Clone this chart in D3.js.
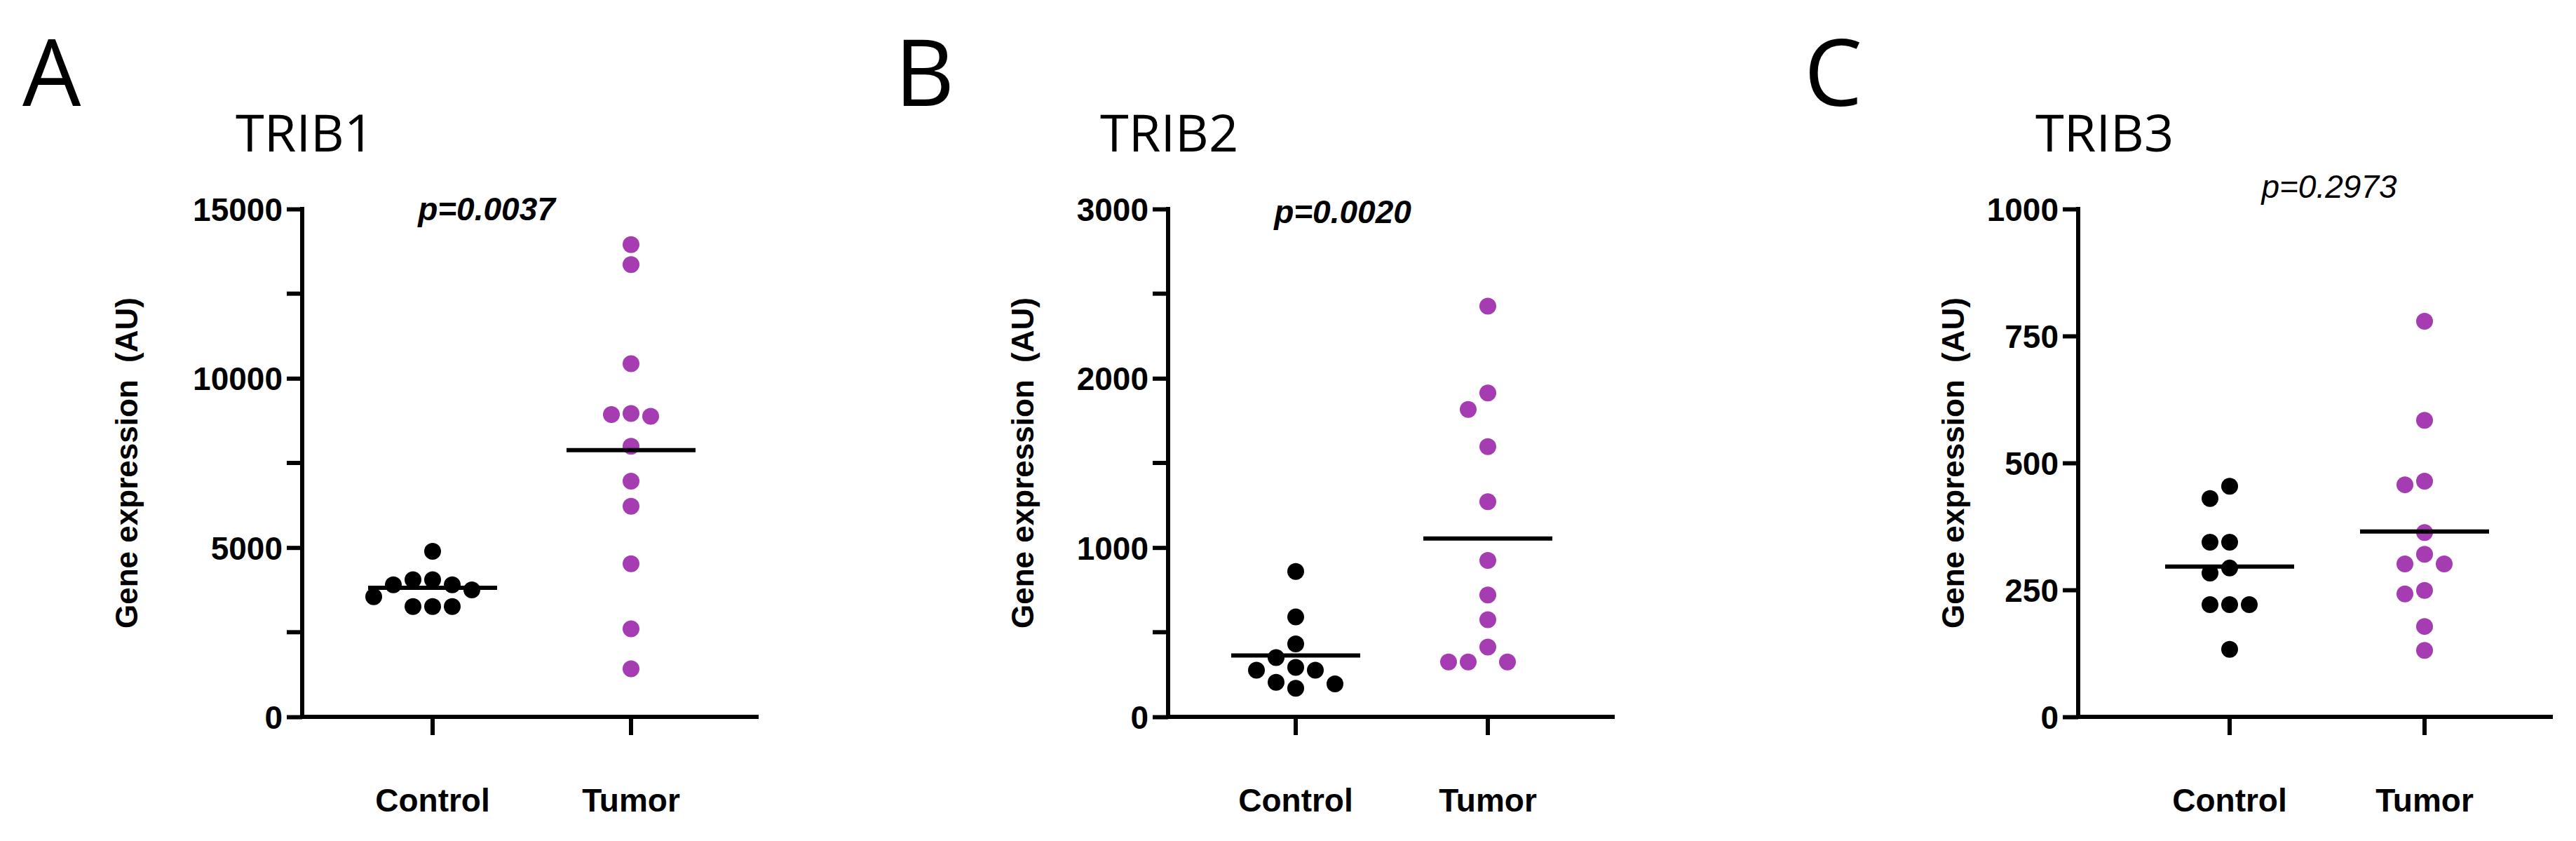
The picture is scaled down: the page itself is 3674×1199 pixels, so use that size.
<!DOCTYPE html>
<html>
<head>
<meta charset="utf-8">
<script src="https://cdn.jsdelivr.net/npm/d3@7"></script>
<style>
body { margin: 0; background: #fff; }
</style>
</head>
<body>
<script>
// DATA
var groups = ["Control", "Tumor"]

var trib1Control = [4890, 4050, 4050, 3900, 3900, 3750, 3550, 3260, 3260, 3260]
var trib1Tumor = [13950, 13360, 10430, 8960, 8930, 8880, 7990, 6960, 6220, 4520, 2600, 1420]
var trib1Means = [3810, 7880]

var trib2Control = [859, 590, 431, 350, 292, 276, 276, 204, 195, 169]
var trib2Tumor = [2426, 1913, 1816, 1596, 1271, 924, 720, 574, 412, 324, 324, 324]
var trib2Means = [363, 1054]

var trib3Control = [454, 430, 344, 344, 293, 283, 221, 221, 221, 133]
var trib3Tumor = [779, 584, 464, 457, 363, 320, 301, 301, 249, 242, 178, 131]
var trib3Means = [296, 365]

var panels = [
	{ letter: "A", title: "TRIB1", p: "p=0.0037", pBold: true, max: 15000, ticks: [0, 5000, 10000, 15000], minor: 2500,
		control: trib1Control, tumor: trib1Tumor, means: trib1Means,
		ox: 0, axisX: 431, axisEnd: 1082, c1: 617, c2: 900, labelDx: 250, letterX: 32, titleX: 336, pX: 694, pY: 314 },
	{ letter: "B", title: "TRIB2", p: "p=0.0020", pBold: true, max: 3000, ticks: [0, 1000, 2000, 3000], minor: 500,
		control: trib2Control, tumor: trib2Tumor, means: trib2Means,
		ox: 1225, axisX: 441, axisEnd: 1078, c1: 623, c2: 897, labelDx: 207, letterX: 51, titleX: 344, pX: 690, pY: 318 },
	{ letter: "C", title: "TRIB3", p: "p=0.2973", pBold: false, max: 1000, ticks: [0, 250, 500, 750, 1000], minor: null,
		control: trib3Control, tumor: trib3Tumor, means: trib3Means,
		ox: 2450, axisX: 514, axisEnd: 1191, c1: 730, c2: 1008, labelDx: 178, letterX: 123, titleX: 453, pX: 872, pY: 282 }
]

var purple = "#a53cb2"
var r = 12
var yTop = 298, yBottom = 1022

var svg = d3.select("body").append("svg")
	.attr("width", 3674)
	.attr("height", 1199)

// simple beeswarm: stack colliding points sideways
function swarm(values, y, cx) {
	var placed = []
	var sorted = values.slice().sort(function(a, b) { return b - a })
	sorted.forEach(function(v) {
		var py = y(v)
		var steps = [0, -1, 1, -2, 2, -3, 3]
		for (var i = 0; i < steps.length; i++) {
			var px = cx + steps[i] * (2 * r + 4)
			var ok = placed.every(function(q) {
				return Math.hypot(q.x - px, q.y - py) > 2 * r + 2
			})
			if (ok) { placed.push({ x: px, y: py }); break }
		}
	})
	return placed
}

panels.forEach(function(p) {
	var g = svg.append("g").attr("transform", "translate(" + p.ox + ",0)")

	var y = d3.scaleLinear().domain([0, p.max]).range([yBottom, yTop])
	var x = d3.scaleOrdinal().domain(groups).range([p.c1, p.c2])

	g.append("text").attr("x", p.letterX).attr("y", 151)
		.attr("font-family", "Open Sans").attr("font-size", 132).text(p.letter)
	g.append("text").attr("x", p.titleX).attr("y", 216)
		.attr("font-family", "Open Sans").attr("font-size", 74).text(p.title)

	g.append("text").attr("x", p.pX).attr("y", p.pY)
		.attr("text-anchor", "middle")
		.attr("font-family", "Liberation Sans").attr("font-style", "italic")
		.attr("font-weight", p.pBold ? "bold" : "normal")
		.attr("font-size", 46).text(p.p)

	// y axis
	var yAxis = d3.axisLeft(y).tickValues(p.ticks).tickSize(22).tickPadding(6).tickFormat(d3.format("d"))
	var ya = g.append("g").attr("transform", "translate(" + p.axisX + ",0)").call(yAxis)
	ya.select(".domain").remove()
	ya.append("line").attr("x1", 0).attr("x2", 0).attr("y1", yTop - 3).attr("y2", yBottom + 3)
		.attr("stroke", "#000").attr("stroke-width", 6)
	ya.selectAll(".tick line").attr("stroke-width", 6)
	ya.selectAll(".tick text").attr("font-family", "Liberation Sans").attr("font-weight", "bold")
		.attr("font-size", 46).attr("fill", "#000").attr("dy", "0.36em")
	if (p.minor) {
		var minorVals = d3.range(p.minor, p.max, p.minor * 2)
		ya.selectAll(".minor").data(minorVals).enter().append("line")
			.attr("x1", -22).attr("x2", 0).attr("y1", y).attr("y2", y)
			.attr("stroke", "#000").attr("stroke-width", 6)
	}

	// x axis
	g.append("line").attr("x1", p.axisX - 3).attr("x2", p.axisEnd).attr("y1", yBottom).attr("y2", yBottom)
		.attr("stroke", "#000").attr("stroke-width", 6)
	groups.forEach(function(c) {
		g.append("line").attr("x1", x(c)).attr("x2", x(c)).attr("y1", yBottom).attr("y2", yBottom + 26)
			.attr("stroke", "#000").attr("stroke-width", 6)
		g.append("text").attr("x", x(c)).attr("y", 1157).attr("text-anchor", "middle")
			.attr("font-family", "Liberation Sans").attr("font-weight", "bold").attr("font-size", 46).text(c)
	})

	g.append("text")
		.attr("transform", "translate(" + (p.axisX - p.labelDx) + "," + ((yTop + yBottom) / 2) + ") rotate(-90)")
		.attr("text-anchor", "middle").attr("dy", "0.35em")
		.attr("font-family", "Liberation Sans").attr("font-weight", "bold").attr("font-size", 44)
		.attr("xml:space", "preserve")
		.text("Gene expression  (AU)")

	// dots
	g.selectAll(".c").data(swarm(p.control, y, x("Control"))).enter().append("circle")
		.attr("cx", function(d) { return d.x }).attr("cy", function(d) { return d.y })
		.attr("r", r).attr("fill", "#000")
	g.selectAll(".t").data(swarm(p.tumor, y, x("Tumor"))).enter().append("circle")
		.attr("cx", function(d) { return d.x }).attr("cy", function(d) { return d.y })
		.attr("r", r).attr("fill", purple)

	// mean lines
	groups.forEach(function(c, i) {
		g.append("line").attr("x1", x(c) - 92).attr("x2", x(c) + 92)
			.attr("y1", y(p.means[i])).attr("y2", y(p.means[i]))
			.attr("stroke", "#000").attr("stroke-width", 6)
	})
})
</script>
</body>
</html>
